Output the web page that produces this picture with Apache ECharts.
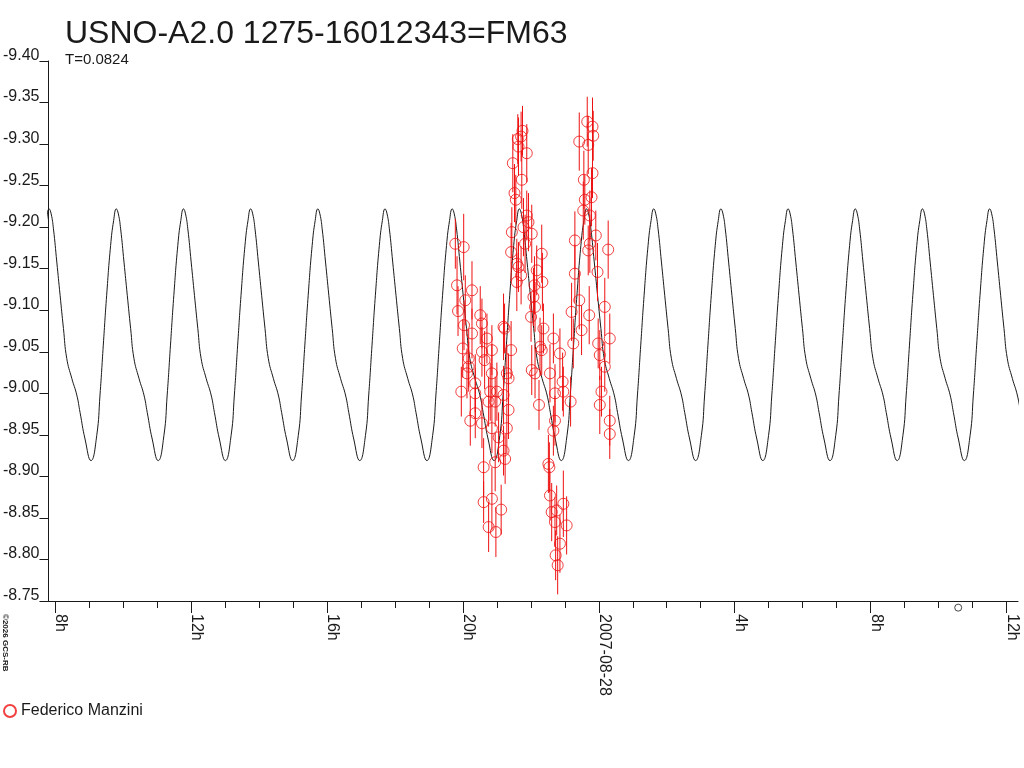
<!DOCTYPE html>
<html>
<head>
<meta charset="utf-8">
<title>USNO-A2.0 1275-16012343=FM63</title>
<script src="https://cdn.jsdelivr.net/npm/echarts@6/dist/echarts.min.js"></script>
<style>
  html, body { margin: 0; padding: 0; background: #fff; }
  #chart { width: 1024px; height: 768px; }
</style>
</head>
<body>
<div id="chart"></div>
<script>
// star + model
const starName = 'USNO-A2.0 1275-16012343=FM63';
const periodDays = 0.0824;
const epochHour = 7.82;          // a model maximum, hours from 2007-08-27 00:00
const observer = 'Federico Manzini';
const credit = '\u00a92026 GCS-RB';

// one cycle of the model light curve (phase 0 = maximum)
const modelPhase = [0.000, 0.030, 0.064, 0.114, 0.163, 0.213, 0.262, 0.337, 0.411, 0.460,
                    0.534, 0.623, 0.708, 0.757, 0.806, 0.856, 0.915, 0.960];
const modelMag   = [-9.222, -9.216, -9.198, -9.158, -9.118, -9.078, -9.042, -9.018, -8.998, -8.977,
                    -8.945, -8.919, -8.949, -8.998, -9.058, -9.118, -9.178, -9.208];

// observations: hours from 2007-08-27 00:00, magnitude, error
const obsHour = [
  19.777, 19.827, 19.856, 19.953, 19.994, 20.023, 20.032, 20.070, 20.120, 20.170,
  20.170, 20.217, 20.267, 20.267, 20.364, 20.364, 20.364, 20.510, 20.560, 20.560,
  20.560, 20.610, 20.610, 20.639, 20.707, 20.757, 20.757, 20.804, 20.853, 20.853,
  20.853, 20.853, 20.950, 20.950, 20.971, 21.000, 21.050, 21.126, 21.196, 21.196,
  21.196, 21.226, 21.243, 21.293, 21.293, 21.343, 21.343, 21.419, 21.419, 21.440,
  21.469, 21.519, 21.557, 21.587, 21.587, 21.616, 21.636, 21.636, 21.713, 21.713,
  21.733, 21.754, 21.783, 21.830, 21.880, 21.880, 21.930, 22.006, 22.026, 22.026,
  22.076, 22.106, 22.123, 22.123, 22.173, 22.240, 22.270, 22.320, 22.320, 22.340,
  22.370, 22.516, 22.545, 22.563, 22.563, 22.613, 22.663, 22.663, 22.710, 22.710,
  22.710, 22.730, 22.760, 22.789, 22.856, 22.856, 22.935, 22.956, 22.956, 23.053,
  23.170, 23.199, 23.249, 23.296, 23.296, 23.425, 23.425, 23.493, 23.543, 23.560,
  23.589, 23.660, 23.689, 23.689, 23.718, 23.736, 23.736, 23.786, 23.815, 23.815,
  23.836, 23.912, 23.962, 23.982, 24.029, 24.029, 24.079, 24.176, 24.176, 24.276,
  24.323, 24.323, 24.323
];
const obsMag = [
  -9.180, -9.130, -9.099, -9.002, -9.054, -9.176, -9.082, -9.112, -9.024, -9.042,
  -9.032, -8.967, -9.124, -9.072, -9.012, -9.000, -8.976, -9.094, -9.084, -9.050,
  -8.964, -8.911, -8.869, -9.040, -9.066, -8.990, -8.839, -9.002, -9.052, -9.024,
  -8.958, -8.873, -8.990, -8.917, -8.833, -9.002, -8.947, -8.860, -9.080, -8.998,
  -8.931, -9.078, -8.921, -9.024, -8.958, -8.980, -9.018, -9.170, -9.052, -9.194,
  -9.277, -9.241, -9.233, -9.134, -9.156, -9.306, -9.297, -9.152, -9.309, -9.142,
  -9.257, -9.316, -9.200, -9.180, -9.289, -9.214, -9.206, -9.092, -9.192, -9.028,
  -9.116, -9.130, -9.104, -9.024, -9.148, -8.986, -9.056, -9.168, -9.052, -9.134,
  -9.078, -8.915, -8.911, -9.024, -8.877, -8.857, -9.066, -8.955, -9.000, -8.967,
  -8.845, -8.805, -8.859, -8.793, -9.048, -8.819, -9.014, -9.002, -8.867, -8.841,
  -8.990, -9.098, -9.060, -9.184, -9.144, -9.303, -9.112, -9.076, -9.220, -9.257,
  -9.233, -9.327, -9.299, -9.172, -9.094, -9.214, -9.180, -9.236, -9.321, -9.265,
  -9.310, -9.190, -9.146, -9.060, -9.046, -8.986, -9.002, -9.104, -9.032, -9.173,
  -9.066, -8.967, -8.951
];
const obsErr = [
  0.030, 0.035, 0.030, 0.030, 0.035, 0.040, 0.030, 0.030, 0.030, 0.035,
  0.030, 0.030, 0.035, 0.030, 0.035, 0.030, 0.030, 0.035, 0.030, 0.030,
  0.030, 0.035, 0.025, 0.035, 0.030, 0.030, 0.030, 0.035, 0.030, 0.035,
  0.030, 0.038, 0.030, 0.035, 0.030, 0.035, 0.030, 0.030, 0.040, 0.035,
  0.030, 0.030, 0.030, 0.035, 0.030, 0.035, 0.030, 0.035, 0.035, 0.030,
  0.035, 0.035, 0.030, 0.035, 0.030, 0.030, 0.035, 0.030, 0.030, 0.035,
  0.035, 0.030, 0.035, 0.035, 0.035, 0.030, 0.035, 0.030, 0.035, 0.030,
  0.035, 0.035, 0.030, 0.030, 0.030, 0.030, 0.035, 0.035, 0.030, 0.035,
  0.030, 0.035, 0.030, 0.035, 0.030, 0.035, 0.030, 0.030, 0.035, 0.030,
  0.030, 0.030, 0.030, 0.035, 0.030, 0.035, 0.035, 0.030, 0.040, 0.035,
  0.030, 0.035, 0.030, 0.035, 0.035, 0.035, 0.035, 0.030, 0.035, 0.035,
  0.030, 0.030, 0.035, 0.030, 0.035, 0.030, 0.035, 0.035, 0.035, 0.030,
  0.030, 0.030, 0.035, 0.030, 0.030, 0.035, 0.030, 0.035, 0.030, 0.035,
  0.030, 0.030, 0.030
];

// small marker drawn under the time axis
const markerHour = 34.58;
const markerMag = -8.742;

// axis
const xMin = 7.80, xMax = 36.34;
const hourTicks = [8, 9, 10, 11, 12, 13, 14, 15, 16, 17, 18, 19, 20, 21, 22,
                   23, 24, 25, 26, 27, 28, 29, 30, 31, 32, 33, 34, 35, 36];
const majorTicks = [8, 12, 16, 20, 24, 28, 32, 36];
const dateLabel = '2007-08-28';

const FONT = '"Liberation Sans", Arial, sans-serif';
const RED = '#ee1111';
const INK = '#1a1a1a';

// repeat the read cycle with the period from the title
const periodHours = periodDays * 24;
const modelData = [];
for (let k = -1; k <= 15; k++) {
  modelPhase.forEach((ph, i) => {
    modelData.push([epochHour + (k + ph) * periodHours, modelMag[i]]);
  });
}

const obsData = obsHour.map((h, i) => [h, obsMag[i]]);
const errData = obsHour.map((h, i) => [h, obsMag[i] - obsErr[i], obsMag[i] + obsErr[i]]);

const chart = echarts.init(document.getElementById('chart'));

chart.setOption({
  animation: false,
  backgroundColor: '#fff',
  textStyle: { fontFamily: FONT },
  title: {
    text: starName,
    subtext: 'T=' + periodDays,
    left: 65, top: 18, itemGap: 2, padding: 0,
    textStyle: { fontSize: 32, fontWeight: 'normal', color: INK, fontFamily: FONT },
    subtextStyle: { fontSize: 15, color: INK, fontFamily: FONT }
  },
  legend: {
    data: [observer],
    left: 3, top: 703, padding: 0,
    itemWidth: 12, itemHeight: 12,
    textStyle: { fontSize: 16, color: INK, fontFamily: FONT }
  },
  grid: { left: 45, right: 6, top: 61, bottom: 167 },
  xAxis: [
    {
      type: 'value', min: xMin, max: xMax,
      axisLine: { lineStyle: { color: INK, width: 1 } },
      axisTick: { length: 7, customValues: hourTicks, lineStyle: { color: INK } },
      axisLabel: { show: false },
      splitLine: { show: false }
    },
    {
      type: 'value', min: xMin, max: xMax, position: 'bottom',
      axisLine: { show: false },
      axisTick: { length: 12, customValues: majorTicks, lineStyle: { color: INK } },
      axisLabel: {
        customValues: majorTicks,
        rotate: -90, margin: 13,
        fontSize: 16, color: INK, fontFamily: FONT,
        verticalAlign: 'bottom', lineHeight: 11,
        formatter: v => (v === 24 ? dateLabel : (v % 24) + 'h')
      },
      splitLine: { show: false }
    }
  ],
  yAxis: {
    type: 'value', inverse: true,
    min: -9.40, max: -8.75, interval: 0.05,
    axisLine: { show: true, lineStyle: { color: INK } },
    axisTick: { show: true, length: 9, lineStyle: { color: INK } },
    axisLabel: {
      fontSize: 16, color: INK, fontFamily: FONT, margin: 9,
      verticalAlign: 'bottom', lineHeight: 11,
      formatter: v => v.toFixed(2)
    },
    splitLine: { show: false }
  },
  graphic: [{
    type: 'text', x: 5, y: 614, rotation: -Math.PI / 2,
    style: { text: credit, fontSize: 8, fontWeight: 'bold', fill: INK, fontFamily: FONT, verticalAlign: 'middle' }
  }],
  series: [
    {
      name: 'model', type: 'line', data: modelData,
      showSymbol: false, smooth: true, silent: true, z: 2,
      lineStyle: { color: INK, width: 1 }
    },
    {
      name: 'errors', type: 'custom', data: errData, z: 3, silent: true,
      encode: { x: 0, y: [1, 2] },
      renderItem: (params, api) => {
        const top = api.coord([api.value(0), api.value(1)]);
        const bot = api.coord([api.value(0), api.value(2)]);
        return {
          type: 'line',
          shape: { x1: top[0], y1: top[1], x2: bot[0], y2: bot[1] },
          style: { stroke: RED, lineWidth: 1 }
        };
      }
    },
    {
      name: observer, type: 'scatter', data: obsData, z: 4,
      symbol: 'circle', symbolSize: 11,
      itemStyle: { color: 'rgba(0,0,0,0)', borderColor: RED, borderWidth: 1 }
    },
    {
      name: 'marker', type: 'scatter', data: [[markerHour, markerMag]],
      symbol: 'circle', symbolSize: 7, clip: false, silent: true,
      itemStyle: { color: 'rgba(0,0,0,0)', borderColor: INK, borderWidth: 1 }
    }
  ]
});
</script>
</body>
</html>
